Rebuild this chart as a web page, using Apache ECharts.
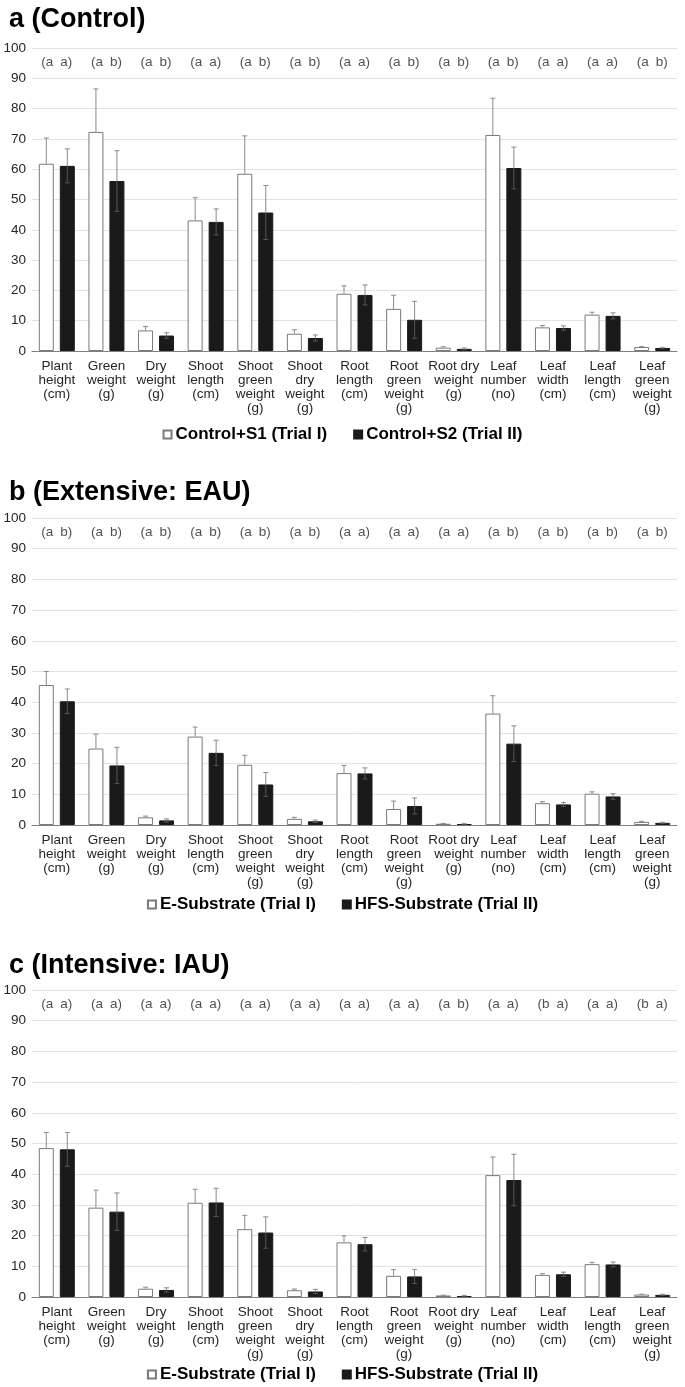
<!DOCTYPE html>
<html>
<head>
<meta charset="utf-8">
<script src="https://cdn.jsdelivr.net/npm/echarts@6/dist/echarts.min.js"></script>
<style>html,body{margin:0;padding:0;background:#fff;}#c{width:685px;height:1387px;}</style>
</head>
<body>
<div id="c"></div>
<script>
var categories = ['Plant\nheight\n(cm)','Green\nweight\n(g)','Dry\nweight\n(g)','Shoot\nlength\n(cm)','Shoot\ngreen\nweight\n(g)','Shoot\ndry\nweight\n(g)','Root\nlength\n(cm)','Root\ngreen\nweight\n(g)','Root dry\nweight\n(g)','Leaf\nnumber\n(no)','Leaf\nwidth\n(cm)','Leaf\nlength\n(cm)','Leaf\ngreen\nweight\n(g)'];

var panelTitles = ['a (Control)', 'b (Extensive: EAU)', 'c (Intensive: IAU)'];
var namesA = ['Control+S1 (Trial I)', 'Control+S2 (Trial II)'];
var namesBC = ['E-Substrate (Trial I)', 'HFS-Substrate (Trial II)'];

var a1 = [61.8,72.3,6.8,43.1,58.5,5.7,18.9,13.9,1.1,71.3,7.8,12.0,1.3];
var a1Err = [8.5,14.2,1.3,7.5,12.5,1.3,2.6,4.5,0.3,12.1,0.6,0.8,0.2];
var a2 = [61.1,56.1,5.1,42.6,45.7,4.3,18.5,10.3,0.7,60.4,7.6,11.6,1.0];
var a2Err = [5.6,10.0,0.9,4.3,8.9,1.0,3.3,6.1,0.3,6.9,0.7,1.0,0.2];
var aLet1 = ['(a','(a','(a','(a','(a','(a','(a','(a','(a','(a','(a','(a','(a'];
var aLet2 = ['a)','b)','b)','a)','b)','b)','a)','b)','b)','b)','a)','a)','b)'];

var b1 = [45.6,24.9,2.5,28.8,19.6,2.0,16.9,5.2,0.4,36.3,7.1,10.2,1.0];
var b1Err = [4.4,4.7,0.4,3.1,3.1,0.5,2.5,2.6,0.1,5.8,0.5,0.6,0.2];
var b2 = [40.3,19.4,1.5,23.5,13.2,1.2,16.8,6.2,0.3,26.5,6.7,9.3,0.7];
var b2Err = [4.0,5.9,0.5,4.1,3.9,0.4,1.8,2.6,0.15,5.8,0.6,0.9,0.2];
var bLet1 = ['(a','(a','(a','(a','(a','(a','(a','(a','(a','(a','(a','(a','(a'];
var bLet2 = ['b)','b)','b)','b)','b)','b)','a)','a)','a)','b)','b)','b)','b)'];

var c1 = [48.5,29.1,2.7,30.7,22.1,2.2,17.8,6.9,0.5,39.7,7.2,10.7,0.8];
var c1Err = [5.1,5.7,0.5,4.4,4.5,0.4,2.1,2.0,0.1,5.9,0.4,0.6,0.1];
var c2 = [48.1,27.8,2.3,30.8,21.0,1.8,17.2,6.7,0.3,38.1,7.4,10.6,0.7];
var c2Err = [5.5,6.1,0.7,4.6,5.1,0.7,2.2,2.3,0.2,8.4,0.7,0.8,0.2];
var cLet1 = ['(a','(a','(a','(a','(a','(a','(a','(a','(a','(a','(b','(a','(b'];
var cLet2 = ['a)','a)','a)','a)','a)','a)','a)','a)','b)','a)','a)','a)','a)'];

var letterLevel = 95.3;

var FONT = "'Liberation Sans Narrow','Arial Narrow','Liberation Sans',Arial,sans-serif";
var TITLE_FONT = "'Liberation Sans',Arial,sans-serif";
var BAR_W = 15, BAR_OFF = 10.5;

var panels = [
  {top:48, height:303, titleTop:1, legendTop:421, names:namesA, v1:a1, e1:a1Err, v2:a2, e2:a2Err, l1:aLet1, l2:aLet2},
  {top:518, height:307, titleTop:474, legendTop:891, names:namesBC, v1:b1, e1:b1Err, v2:b2, e2:b2Err, l1:bLet1, l2:bLet2},
  {top:990, height:307, titleTop:947, legendTop:1361, names:namesBC, v1:c1, e1:c1Err, v2:c2, e2:c2Err, l1:cLet1, l2:cLet2}
];

function errRender(offset, lower) {
  return function (params, api) {
    var i = api.value(0), v = api.value(1), e = api.value(2);
    var b = api.coord([i, v]);
    var hi = api.coord([i, v + e]);
    var lo = api.coord([i, Math.max(0, v - e)]);
    var x = b[0] + offset, cap = 2.5;
    var up = {stroke:'#8a8a8a', lineWidth:1};
    var dn = {stroke:'#555555', lineWidth:1};
    var ch = [
      {type:'line', shape:{x1:x, y1:b[1], x2:x, y2:hi[1]}, style:up},
      {type:'line', shape:{x1:x-cap, y1:hi[1], x2:x+cap, y2:hi[1]}, style:up}
    ];
    if (lower) {
      ch.push({type:'line', shape:{x1:x, y1:b[1], x2:x, y2:lo[1]}, style:dn});
      ch.push({type:'line', shape:{x1:x-cap, y1:lo[1], x2:x+cap, y2:lo[1]}, style:dn});
    }
    return {type:'group', children:ch};
  };
}

var option = {animation:false, backgroundColor:'#fff', title:[], grid:[], xAxis:[], yAxis:[], legend:[], series:[]};

panels.forEach(function (p, k) {
  option.title.push({text:panelTitles[k], left:4, top:p.titleTop,
    textStyle:{fontFamily:TITLE_FONT, fontSize:27, fontWeight:'bold', color:'#000'}});
  option.grid.push({left:32, right:8, top:p.top, height:p.height});
  option.xAxis.push({type:'category', gridIndex:k, data:categories,
    axisLine:{lineStyle:{color:'#7f7f7f', width:1}}, axisTick:{show:false},
    axisLabel:{interval:0, margin:8, fontFamily:FONT, fontSize:13.5, lineHeight:14, color:'#262626'}});
  option.yAxis.push({type:'value', gridIndex:k, min:0, max:100, interval:10,
    axisLine:{show:false}, axisTick:{show:false},
    splitLine:{lineStyle:{color:'#e3e3e3', width:1}},
    axisLabel:{margin:6, fontFamily:FONT, fontSize:13.5, color:'#262626'}});
  option.legend.push({data:[{name:p.names[0]},{name:p.names[1]}], top:p.legendTop, left:'center',
    itemWidth:8, itemHeight:8, itemGap:26, icon:'rect', selectedMode:false,
    textStyle:{fontFamily:FONT, fontSize:17, fontWeight:'bold', color:'#000', padding:[0,0,0,-1]}});
  option.series.push({type:'bar', name:p.names[0], xAxisIndex:k, yAxisIndex:k, data:p.v1,
    barWidth:BAR_W, barGap:'40%', itemStyle:{color:'#ffffff', borderColor:'#7a7a7a', borderWidth:1}, z:2});
  option.series.push({type:'bar', name:p.names[1], xAxisIndex:k, yAxisIndex:k, data:p.v2,
    barWidth:BAR_W, barGap:'40%', itemStyle:{color:'#1a1a1a', borderColor:'#1a1a1a', borderWidth:1}, z:2});
  option.series.push({type:'custom', name:'err1_'+k, xAxisIndex:k, yAxisIndex:k, z:5,
    renderItem:errRender(-BAR_OFF, false), encode:{x:0, y:1},
    data:p.v1.map(function (v, i) { return [i, v, p.e1[i]]; })});
  option.series.push({type:'custom', name:'err2_'+k, xAxisIndex:k, yAxisIndex:k, z:5,
    renderItem:errRender(BAR_OFF, true), encode:{x:0, y:1},
    data:p.v2.map(function (v, i) { return [i, v, p.e2[i]]; })});
  [[p.l1, -BAR_OFF + 1], [p.l2, BAR_OFF - 1]].forEach(function (L, j) {
    option.series.push({type:'scatter', name:'let'+j+'_'+k, xAxisIndex:k, yAxisIndex:k,
      symbolSize:0, silent:true,
      data:categories.map(function (c, i) { return [i, letterLevel]; }),
      label:{show:true, position:'inside', offset:[L[1], 0], fontFamily:FONT, fontSize:13.5, color:'#262626',
        formatter:function (q) { return L[0][q.dataIndex]; }}});
  });
});

var chart = echarts.init(document.getElementById('c'), null, {renderer:'canvas'});
chart.setOption(option);
</script>
</body>
</html>
